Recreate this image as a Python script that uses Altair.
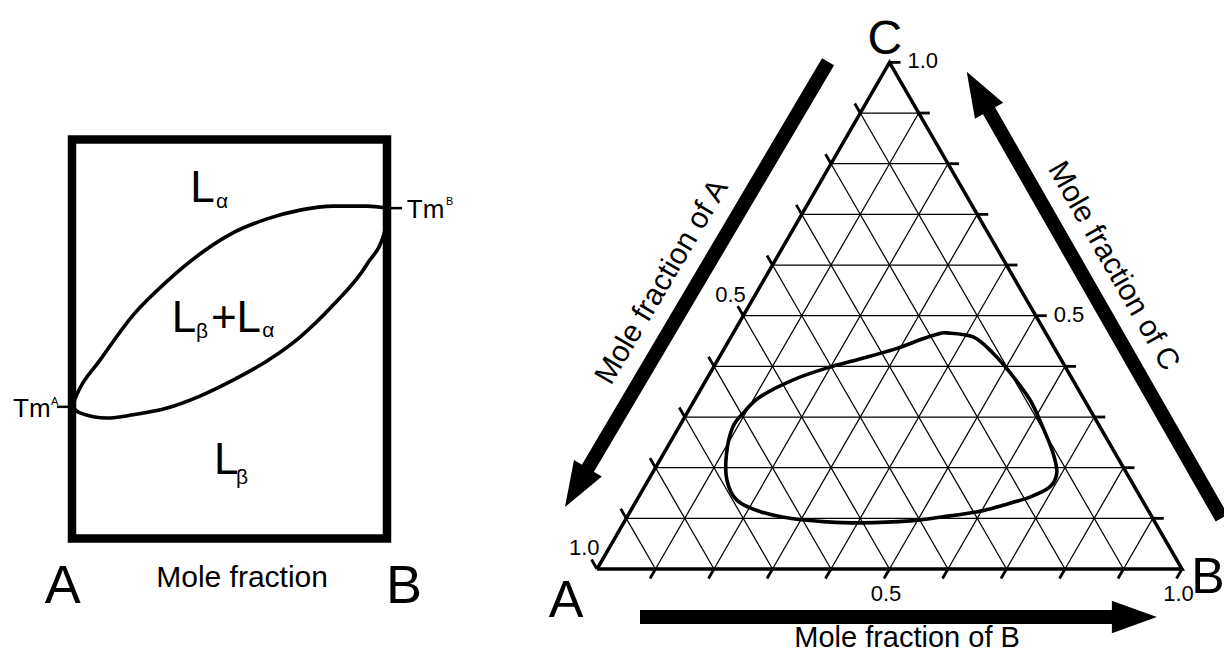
import math
import altair as alt
import pandas as pd

# ---------------- data ----------------
# Left: binary phase diagram (x = mole fraction of B, t = relative temperature 0..1)
upper_x = [0.0, 0.016, 0.089, 0.194, 0.302, 0.406, 0.511, 0.619, 0.724, 0.829, 0.937, 1.0]
upper_t = [0.330, 0.362, 0.447, 0.560, 0.645, 0.713, 0.766, 0.801, 0.823, 0.833, 0.833, 0.828]
lower_x = [0.0, 0.025, 0.111, 0.194, 0.302, 0.406, 0.511, 0.619, 0.724, 0.829, 0.937, 0.994, 1.0]
lower_t = [0.330, 0.315, 0.302, 0.310, 0.327, 0.357, 0.397, 0.445, 0.505, 0.585, 0.688, 0.773, 0.828]
tm_names = ["A", "B"]
tm_values = [0.330, 0.828]

# Right: ternary diagram (fractions of B and C along the closed boundary)
grid_fracs = [0.1, 0.2, 0.3, 0.4, 0.5, 0.6, 0.7, 0.8, 0.9]
tick_fracs = [0.1, 0.2, 0.3, 0.4, 0.5, 0.6, 0.7, 0.8, 0.9, 1.0]
tick_label_values = [0.5, 1.0]
loop_b = [0.365, 0.414, 0.464, 0.513, 0.573, 0.622, 0.665, 0.691, 0.693, 0.669,
          0.631, 0.594, 0.540, 0.488, 0.405, 0.347, 0.286, 0.223, 0.171, 0.134,
          0.107, 0.092, 0.096, 0.109, 0.148, 0.195, 0.242, 0.292, 0.329, 0.351]
loop_c = [0.466, 0.458, 0.426, 0.387, 0.334, 0.280, 0.229, 0.190, 0.162, 0.142,
          0.126, 0.113, 0.103, 0.095, 0.091, 0.093, 0.099, 0.113, 0.136, 0.176,
          0.229, 0.280, 0.308, 0.340, 0.373, 0.397, 0.4145, 0.434, 0.454, 0.464]

# ---------------- layout ----------------
W, H = 1216, 644          # whole page area inside the 8px margin
FONT = "Liberation Sans"
S3 = math.sqrt(3) / 2


def dom_x(page_px_zero, unit_px):
    z = page_px_zero - 8
    return [-z / unit_px, (W - z) / unit_px]


def dom_y(page_py_zero, unit_px):
    z = H - (page_py_zero - 8)
    return [-z / unit_px, (H - z) / unit_px]


LX = dom_x(72, 315)       # left panel: x=0 at page x 72, 315 px per unit
LY = dom_y(538.5, 399)    # left panel: t=0 at page y 538.5, 399 px per unit
UNIT = 585.0
RX = dom_x(597, UNIT)     # ternary: vertex A at page (597, 569)
RY = dom_y(569, UNIT)


def ex(d, f="x"):
    return alt.X(f, type="quantitative", scale=alt.Scale(domain=d, nice=False, zero=False), axis=None)


def ey(d, f="y"):
    return alt.Y(f, type="quantitative", scale=alt.Scale(domain=d, nice=False, zero=False), axis=None)


def text_layer(rows, xd, yd, size, align="center", baseline="alphabetic", dx=0, dy=0):
    df = pd.DataFrame(rows, columns=["x", "y", "label"])
    return alt.Chart(df).mark_text(
        font=FONT, fontSize=size, align=align, baseline=baseline, dx=dx, dy=dy, color="black"
    ).encode(x=ex(xd), y=ey(yd), text="label:N")


layers = []

# ---------- left panel ----------
box = pd.DataFrame({"x": [0.0], "x2": [1.0], "y": [0.0], "y2": [1.0]})
layers.append(alt.Chart(box).mark_rect(filled=False, color="black", strokeWidth=8.5).encode(
    x=ex(LX), x2="x2:Q", y=ey(LY), y2="y2:Q"))

curves = pd.DataFrame(
    [{"x": a, "y": b, "c": "upper", "i": i} for i, (a, b) in enumerate(zip(upper_x, upper_t))]
    + [{"x": a, "y": b, "c": "lower", "i": i} for i, (a, b) in enumerate(zip(lower_x, lower_t))])
layers.append(alt.Chart(curves).mark_line(color="black", strokeWidth=3.6, interpolate="monotone").encode(
    x=ex(LX), y=ey(LY), detail="c:N", order="i:Q"))

TLL = 15 / 315.0
tm_ticks = pd.DataFrame({"x": [-TLL, 1.0], "x2": [0.0, 1.0 + TLL], "y": tm_values})
layers.append(alt.Chart(tm_ticks).mark_rule(color="black", strokeWidth=2.5).encode(
    x=ex(LX), x2="x2:Q", y=ey(LY)))

layers.append(text_layer([(-0.068, tm_values[0] - 0.0255, "Tm")], LX, LY, 26, align="right"))
layers.append(text_layer([(1.063, tm_values[1] - 0.025, "Tm")], LX, LY, 26, align="left"))
layers.append(text_layer([(-0.067, tm_values[0] + 0.004, tm_names[0]), (1.187, tm_values[1] + 0.008, tm_names[1])],
                         LX, LY, 11, align="left"))

layers.append(text_layer([(0.375, 0.843, "L"), (0.317, 0.5175, "L"), (0.441, 0.5175, "+"),
                          (0.522, 0.5175, "L"), (0.451, 0.162, "L")], LX, LY, 44, align="left"))
layers.append(text_layer([(0.457, 0.828, "α"), (0.394, 0.5025, "β"), (0.604, 0.505, "α"),
                          (0.521, 0.137, "β")], LX, LY, 21, align="left"))
layers.append(text_layer([(0.540, -0.1215, "Mole fraction")], LX, LY, 30))
layers.append(text_layer([(-0.029, -0.162, "A"), (1.054, -0.162, "B")], LX, LY, 54))

# ---------- right panel (ternary) ----------
def txy(b, c):
    return b + c / 2.0, c * S3


grid_rows = []
for k in grid_fracs:
    x1, y1 = txy(0, k); x2, y2 = txy(1 - k, k)          # constant C
    grid_rows.append((x1, y1, x2, y2))
    x1, y1 = txy(k, 0); x2, y2 = txy(k, 1 - k)          # constant B
    grid_rows.append((x1, y1, x2, y2))
    x1, y1 = txy(1 - k, 0); x2, y2 = txy(0, 1 - k)      # constant A
    grid_rows.append((x1, y1, x2, y2))
grid = pd.DataFrame(grid_rows, columns=["x", "y", "x2", "y2"])
layers.append(alt.Chart(grid).mark_rule(color="black", strokeWidth=1.25).encode(
    x=ex(RX), y=ey(RY), x2="x2:Q", y2="y2:Q"))

tri = pd.DataFrame({"x": [0, 1, 0.5, 0], "y": [0, 0, S3, 0], "i": [0, 1, 2, 3]})
layers.append(alt.Chart(tri).mark_line(color="black", strokeWidth=3.5, strokeJoin="miter").encode(
    x=ex(RX), y=ey(RY), order="i:Q"))

TL = 11 / UNIT
tick_rows = []
ends = {"C": {}, "B": {}, "A": {}}
for k in tick_fracs:
    sx, sy = txy(1 - k, k)                       # right side, C fraction
    ends["C"][k] = (sx + TL, sy)
    tick_rows.append((sx, sy, sx + TL, sy))
    sx, sy = txy(k, 0)                           # bottom, B fraction
    ends["B"][k] = (sx - TL * 0.5, sy - TL * S3)
    tick_rows.append((sx, sy, sx - TL * 0.5, sy - TL * S3))
    sx, sy = txy(0, 1 - k)                       # left side, A fraction
    ends["A"][k] = (sx - TL * 0.5, sy + TL * S3)
    tick_rows.append((sx, sy, sx - TL * 0.5, sy + TL * S3))
ticks = pd.DataFrame(tick_rows, columns=["x", "y", "x2", "y2"])
layers.append(alt.Chart(ticks).mark_rule(color="black", strokeWidth=2.8).encode(
    x=ex(RX), y=ey(RY), x2="x2:Q", y2="y2:Q"))

loop = pd.DataFrame({"x": [b + c / 2 for b, c in zip(loop_b, loop_c)],
                     "y": [c * S3 for c in loop_c], "i": list(range(len(loop_b)))})
layers.append(alt.Chart(loop).mark_line(color="black", strokeWidth=3.6, interpolate="cardinal-closed").encode(
    x=ex(RX), y=ey(RY), order="i:Q"))

layers.append(text_layer([(*ends["C"][v], f"{v:.1f}") for v in tick_label_values], RX, RY, 22,
                         align="left", dx=7, dy=6))
layers.append(text_layer([(*ends["A"][v], f"{v:.1f}") for v in tick_label_values], RX, RY, 22,
                         align="right", dx=8, dy=-4))
layers.append(text_layer([(*ends["B"][v], f"{v:.1f}") for v in tick_label_values], RX, RY, 22,
                         align="center", dx=2, dy=22))

# arrows (tail, tip) in ternary plot units, with their titles
arrows = [((0.395, 0.867), (-0.0547, 0.106), "Mole fraction of A"),
          ((1.068, 0.087), (0.632, 0.850), "Mole fraction of C"),
          ((0.0735, -0.082), (0.957, -0.082), None)]
HL = 45.0
shaft_rows, head_rows, title_rows = [], [], []
for (tx, ty), (px, py), title in arrows:
    dx, dy = px - tx, py - ty
    ln = math.hypot(dx, dy)
    ux, uy = dx / ln, dy / ln
    sx_, sy_ = px - ux * (HL - 4) / UNIT, py - uy * (HL - 4) / UNIT
    shaft_rows.append((tx, ty, sx_, sy_))
    ang = math.degrees(math.atan2(ux, uy)) % 360
    head_rows.append((px - ux * HL / 2 / UNIT, py - uy * HL / 2 / UNIT, ang))
    if title:
        nx, ny = uy, -ux
        off = 31 / UNIT
        cx = tx + 0.53 * dx + off * nx
        cy = ty + 0.53 * dy + off * ny
        rx, ry = -ux, -uy
        tang = math.degrees(math.atan2(-ry, rx)) % 360
        title_rows.append((cx, cy, title, tang))

shafts = pd.DataFrame(shaft_rows, columns=["x", "y", "x2", "y2"])
layers.append(alt.Chart(shafts).mark_rule(color="black", strokeWidth=14, strokeCap="butt").encode(
    x=ex(RX), y=ey(RY), x2="x2:Q", y2="y2:Q"))
heads = pd.DataFrame(head_rows, columns=["x", "y", "a"])
layers.append(alt.Chart(heads).mark_point(
    shape="M0,-1L0.72,1L-0.72,1Z", size=HL * HL, filled=True, color="black", opacity=1, strokeWidth=0
).encode(x=ex(RX), y=ey(RY), angle=alt.Angle("a:Q", scale=None)))

for cx, cy, title, tang in title_rows:
    df = pd.DataFrame({"x": [cx], "y": [cy], "label": [title]})
    layers.append(alt.Chart(df).mark_text(
        font=FONT, fontSize=30, align="center", baseline="middle", angle=tang, color="black"
    ).encode(x=ex(RX), y=ey(RY), text="label:N"))

layers.append(text_layer([(0.530, -0.1335, "Mole fraction of B")], RX, RY, 29))
layers.append(text_layer([(0.492, 0.880, "C")], RX, RY, 48))
layers.append(text_layer([(-0.053, -0.082, "A")], RX, RY, 52))
layers.append(text_layer([(1.0444, -0.041, "B")], RX, RY, 50))

chart = alt.layer(*layers).resolve_scale(x="independent", y="independent").properties(
    width=W, height=H, autosize=alt.AutoSizeParams(type="none"), padding=0
).configure_view(stroke=None)

chart.save("out.html", embed_options={"renderer": "svg", "actions": False})
